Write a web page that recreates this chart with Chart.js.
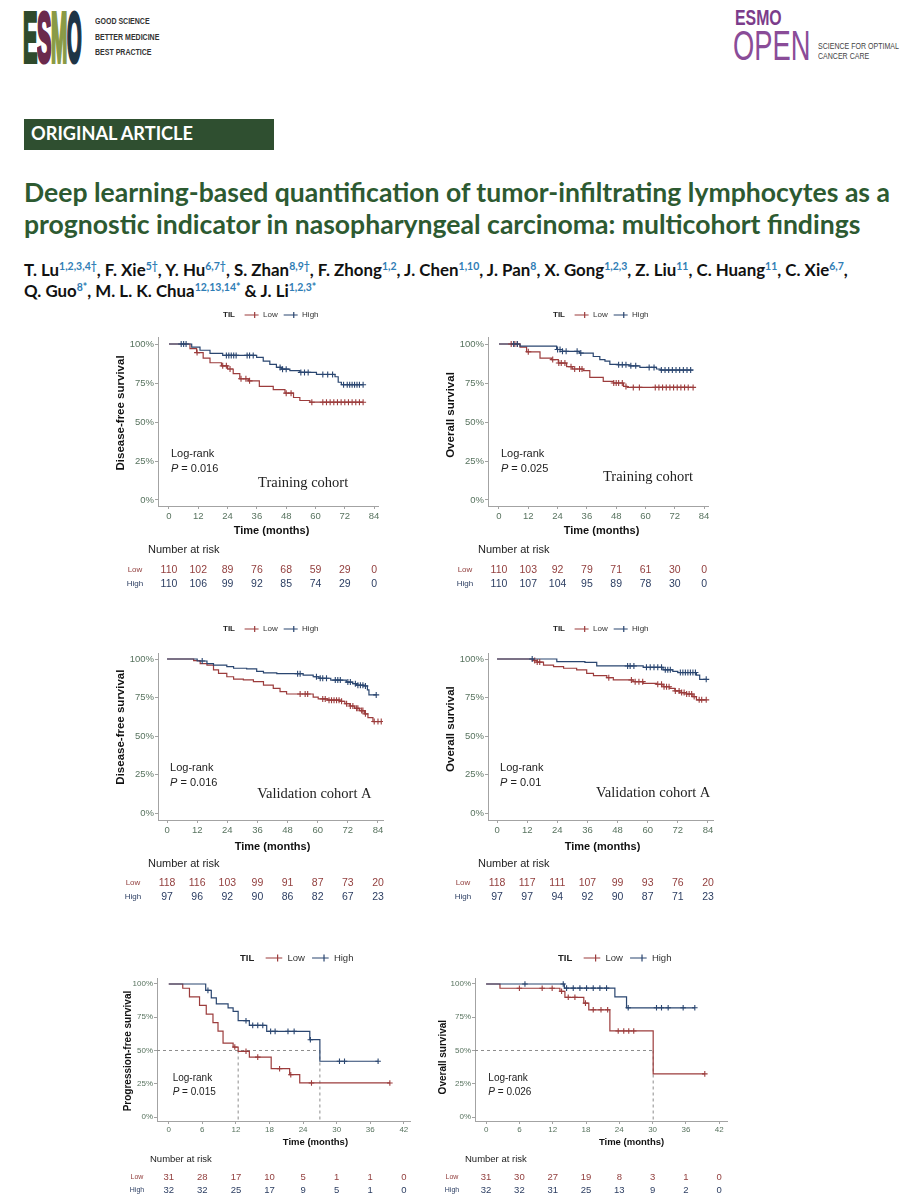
<!DOCTYPE html>
<html>
<head>
<meta charset="utf-8">
<script src="https://cdn.jsdelivr.net/npm/chart.js@4.4.0/dist/chart.umd.min.js"></script>
<style>
  body { margin: 0; background: #fff; width: 915px; height: 1200px; position: relative; overflow: hidden; font-family: "Liberation Sans", Arial, sans-serif; }
  .abs { position: absolute; white-space: nowrap; }
  canvas { position: absolute; }
  .fit { display: inline-block; }
  sup { font-size: 0.62em; vertical-align: 0.55em; line-height: 0; color: #2f7db5; }
  .logo { position: absolute; top: 3px; font: bold 70px "Liberation Sans"; line-height: 1; transform-origin: 0 0; -webkit-text-stroke: 4px; }
</style>
</head>
<body>

<!-- header -->
<div class="logo" style="left:23px;color:#2f4a2c;transform:scaleX(0.31)">E</div>
<div class="logo" style="left:37px;color:#6b2a4c;transform:scaleX(0.31)">S</div>
<div class="logo" style="left:51px;color:#8a9a45;transform:scaleX(0.28)">M</div>
<div class="logo" style="left:67px;color:#1e3446;transform:scaleX(0.27)">O</div>
<div class="abs" style="left:95px;top:14px;font:bold 9px 'Liberation Sans';color:#333;line-height:15.5px;transform:scaleX(0.78);transform-origin:0 0;">GOOD SCIENCE<br>BETTER MEDICINE<br>BEST PRACTICE</div>

<div class="abs" style="left:735px;top:7px;font:bold 22px 'Liberation Sans';color:#7b3c8b;line-height:1;transform:scaleX(0.72);transform-origin:0 0;">ESMO</div>
<div class="abs" style="left:733px;top:25px;font:42px 'Liberation Sans';color:#8a4c98;line-height:1;transform:scaleX(0.65);transform-origin:0 0;">OPEN</div>
<div class="abs" style="left:818px;top:41px;font:9.5px 'Liberation Sans';color:#444;line-height:10px;transform:scaleX(0.74);transform-origin:0 0;">SCIENCE FOR OPTIMAL<br>CANCER CARE</div>

<div class="abs" style="left:24px;top:119px;width:250px;height:31px;background:#2f4f30;"></div>
<div class="abs" style="left:31px;top:122px;line-height:31px;color:#fff;font:bold 17px Lato;"><span class="fit" id="banner">ORIGINAL ARTICLE</span></div>

<div class="abs" style="left:24px;top:176px;line-height:28px;color:#2d5a31;font:bold 23px Lato;"><span class="fit" id="t1">Deep learning-based quantification of tumor-infiltrating lymphocytes as a</span></div>
<div class="abs" style="left:24px;top:208px;line-height:28px;color:#2d5a31;font:bold 23px Lato;"><span class="fit" id="t2">prognostic indicator in nasopharyngeal carcinoma: multicohort findings</span></div>

<div class="abs" style="left:24px;top:259px;line-height:20px;color:#111;font:bold 14px Lato;"><span class="fit" id="a1">T. Lu<sup>1,2,3,4†</sup>, F. Xie<sup>5†</sup>, Y. Hu<sup>6,7†</sup>, S. Zhan<sup>8,9†</sup>, F. Zhong<sup>1,2</sup>, J. Chen<sup>1,10</sup>, J. Pan<sup>8</sup>, X. Gong<sup>1,2,3</sup>, Z. Liu<sup>11</sup>, C. Huang<sup>11</sup>, C. Xie<sup>6,7</sup>,</span></div>
<div class="abs" style="left:24px;top:280px;line-height:20px;color:#111;font:bold 14px Lato;"><span class="fit" id="a2">Q. Guo<sup>8*</sup>, M. L. K. Chua<sup>12,13,14*</sup> &amp; J. Li<sup>1,2,3*</sup></span></div>

<canvas id="c1" width="300" height="295" style="left:100px;top:305px"></canvas>
<canvas id="c2" width="300" height="295" style="left:430px;top:305px"></canvas>
<canvas id="c3" width="300" height="290" style="left:100px;top:620px"></canvas>
<canvas id="c4" width="300" height="290" style="left:430px;top:620px"></canvas>
<canvas id="c5" width="320" height="255" style="left:100px;top:945px"></canvas>
<canvas id="c6" width="320" height="255" style="left:420px;top:945px"></canvas>

<script>
// ---------- data ----------
// curves are [month, survival %] step points, censor arrays are months of "+" marks
const ticks84 = [0, 12, 24, 36, 48, 60, 72, 84];
const ticks42 = [0, 6, 12, 18, 24, 30, 36, 42];
const yTicks = [0, 25, 50, 75, 100];

// Training cohort - disease-free survival
const dfsTrainLow = [[0,100],[8.6,97],[11.3,94.5],[14,91],[16.8,88],[21.5,86],[24,84],[26.3,81],[29,77.7],[32.5,76.4],[37,72.8],[42.7,70.7],[47.5,68.5],[51,65.7],[53.6,63.8],[57.7,62.7],[79.5,62.7]];
const dfsTrainLowCens = [11.5,22,23.5,25,29.5,31.5,33,48,50,58.5,63,64.5,66,67.5,69,70.5,72,73.5,75,76.5,78,79.5];
const dfsTrainHigh = [[0,100],[9.3,98],[12.7,96],[16.8,94],[22,92.7],[35.9,91.5],[38.6,89],[41.3,87],[44,85],[46,83.9],[49.5,83],[53.6,81.8],[60.4,80.5],[68,79],[69.3,75.5],[70.6,73.9],[79.5,73.9]];
const dfsTrainHighCens = [5,6,7,23.5,24.5,25.5,26.5,27.5,32,33,34.5,45.5,46.5,48,54,55.5,57,63,65,67,71.5,73,74,75,76,77,78,79.5];
const dfsTrainRiskLow = [110, 102, 89, 76, 68, 59, 29, 0];
const dfsTrainRiskHigh = [110, 106, 99, 92, 85, 74, 29, 0];

// Training cohort - overall survival
const osTrainLow = [[0,100],[8.6,98],[11.3,95],[16.8,91],[21.5,90],[24.3,87.8],[27.7,85.5],[30,84],[34.5,83],[37.2,78.6],[42.7,76],[46.8,75],[51,72.8],[52.5,72.2],[79.5,72.2]];
const osTrainLowCens = [5,6.5,7.5,12,22,24.5,25.5,27,29.5,31,33,34,47,48,49,50.5,52,55,57.5,64,65.5,67,68.5,70,71.5,73,74.5,76,77.5,79.5];
const osTrainHigh = [[0,100],[8.6,98.7],[23.6,96.5],[26,95.3],[33,94.2],[38.6,92],[41.3,90],[43.4,89],[45.4,87],[48.5,86.7],[53.6,86],[57.7,85],[64.5,84],[66,83.3],[79.5,83.3]];
const osTrainHighCens = [6,7.5,24,25,26,27.5,32,33.5,49,50.5,52,54,56,61.5,63.5,66.5,68,69.5,71,72.5,74,75.5,77,78.5];
const osTrainRiskLow = [110, 103, 92, 79, 71, 61, 30, 0];
const osTrainRiskHigh = [110, 107, 104, 95, 89, 78, 30, 0];

// Validation cohort A - disease-free survival
const dfsValLow = [[0,100],[10.6,99],[13.2,97],[15.9,96],[18.5,93],[20.5,90.7],[23.8,88.5],[26.5,87],[30.4,86.5],[34.4,85.3],[38.4,83],[42.3,81],[45,78.8],[47.6,77.3],[58.2,75.2],[60.2,74.1],[64,73.3],[68.8,72.5],[70.8,71],[72.8,69.5],[74.7,68],[76.7,66.5],[78.7,64.4],[80,62],[82,59.4],[85.3,59.4]];
const dfsValLowCens = [53,55,56,62,63,64.5,65.5,66.5,67.5,68.5,69.5,71.5,73,74,75.5,76,77.5,78,79,82.5,84,85.3];
const dfsValHigh = [[0,100],[12,98.7],[15.9,97],[18.5,96],[23.8,95],[26.5,94],[31.7,93.6],[35.7,92],[38.4,91],[43.7,90.5],[54.2,89.5],[58.2,88.5],[60.5,87.5],[65.2,86.3],[71.4,85],[73.9,84],[75.5,83],[78.4,82.5],[79.8,80],[80.4,76.7],[83.3,76.7]];
const dfsValHighCens = [14,52,53,59.5,61,62,63.5,67,68,69,72,73,75,76,77,78,79,83.3];
const dfsValRiskLow = [118, 116, 103, 99, 91, 87, 73, 20];
const dfsValRiskHigh = [97, 96, 92, 90, 86, 82, 67, 23];

// Validation cohort A - overall survival
const osValLow = [[0,100],[14.6,99],[15.9,98],[18.5,96],[22.5,95],[26.5,94],[31.7,93],[35.7,90.7],[38.4,89.2],[43.7,87.9],[46.3,86.4],[54.2,85.3],[58.2,84.2],[63.5,83.6],[66.1,82],[68.8,81],[70.8,79.3],[72.8,78.2],[75.4,77.3],[78,75.6],[79.4,73.5],[83.3,73.5]];
const osValLowCens = [15,16,17,44.5,53.5,55,56.5,58,64,65.5,66.5,67.5,68.5,71,72.5,73.5,74.5,75.5,76.5,77.5,78.5,80.5,81.5,83.3];
const osValHigh = [[0,100],[23.8,98.3],[35,97.8],[39.7,95.5],[58.2,94.6],[66.1,93],[70,92],[72,91.2],[79.4,89.6],[80.7,86.8],[83.3,86.8]];
const osValHighCens = [14,52,53,54.5,59.5,61,62.5,64,65.5,67,68,69,73,74,75,76,77,78,79,83.3];
const osValRiskLow = [118, 117, 111, 107, 99, 93, 76, 20];
const osValRiskHigh = [97, 97, 94, 92, 90, 87, 71, 23];

// Third cohort - progression-free survival
const pfsLow = [[0,100],[2.5,96.8],[3.7,90.3],[5.5,83.9],[6.7,77.4],[7.9,71],[8.8,64.5],[9.7,55.6],[11.5,52.6],[12.4,49.4],[14.4,45],[18.3,36.3],[21.6,31.8],[23.4,25.6],[39.5,25.6]];
const pfsLowCens = [11.8,13.8,15.9,19.8,21.8,25.5,39.5];
const pfsHigh = [[0,100],[6.6,95.2],[7.6,89.5],[8.5,85],[10.6,82],[11.5,79.4],[12.4,72.4],[14.4,68.9],[17.5,64.4],[25.2,58.1],[27,41.9],[37.4,41.9]];
const pfsHighCens = [7,13.8,15,15.9,16.8,18.2,19,21.3,22.4,25.3,30.5,31.4,37.4];
const pfsRiskLow = [31, 28, 17, 10, 5, 1, 1, 0];
const pfsRiskHigh = [32, 32, 25, 17, 9, 5, 1, 0];

// Third cohort - overall survival
const os3Low = [[0,100],[2.5,96.8],[13.3,94.5],[14.2,90],[17.6,85.6],[18.5,80.6],[22.3,64.7],[30.1,32.4],[39.4,32.4]];
const os3LowCens = [6,10.1,11.9,13.6,14.8,16,17.9,19.3,20.7,21.9,23.8,24.8,25.7,26.6,39.4];
const os3High = [[0,100],[14.1,96.9],[23.2,90.3],[25.3,82.1],[37.6,82.1]];
const os3HighCens = [7,13.9,14.5,15.7,16.9,18.1,19.3,20.5,21.7,25.6,30.7,31.6,32.8,35.5,37.6];
const os3RiskLow = [31, 30, 27, 19, 8, 3, 1, 0];
const os3RiskHigh = [32, 32, 31, 25, 13, 9, 2, 0];

// ---------- styling ----------
const RED = '#9c3c3c';
const BLUE = '#2a4670';
const RISK_RED = '#93403f';
const RISK_BLUE = '#2c3e62';
const AXIS = '#a3a3a3';
const TICK = '#58735f';
const FONT = '"Liberation Sans", Arial, sans-serif';
Chart.defaults.font.family = FONT;

function survAt(curve, t) {
    let s = curve[0][1];
    for (const [ti, si] of curve) { if (ti <= t) s = si; else break; }
    return s;
}
function median(curve) {
    for (const [t, s] of curve) if (s <= 50) return t;
    return null;
}

// draws legend, axis titles, annotations, risk table and median lines
Chart.register({
    id: 'kmDecor',
    beforeDatasetsDraw(chart, args, o) {
        if (!o.medians) return;
        const { ctx, chartArea: a, scales: { x, y } } = chart;
        const meds = [median(o.low), median(o.high)].filter(m => m !== null);
        if (!meds.length) return;
        const y50 = y.getPixelForValue(50);
        ctx.save();
        ctx.strokeStyle = '#8c8c8c';
        ctx.lineWidth = 1;
        ctx.setLineDash([3, 3]);
        ctx.beginPath();
        ctx.moveTo(a.left, y50);
        ctx.lineTo(x.getPixelForValue(Math.max(...meds)), y50);
        meds.forEach(m => {
            const px = x.getPixelForValue(m);
            ctx.moveTo(px, y50);
            ctx.lineTo(px, a.bottom);
        });
        ctx.stroke();
        ctx.restore();
    },
    afterDraw(chart, args, o) {
        const { ctx, chartArea: a, scales: { x, y } } = chart;
        ctx.save();
        ctx.textBaseline = 'middle';

        // legend  TIL -+- Low -+- High
        let lx = a.left + o.legendDx;
        const ly = a.top + o.legendDy;
        const fs = o.legendFs;
        ctx.textAlign = 'left';
        ctx.fillStyle = '#222';
        ctx.font = `bold ${fs}px ${FONT}`;
        ctx.fillText('TIL', lx, ly);
        lx += ctx.measureText('TIL').width + fs * 1.2;
        [[RED, 'Low'], [BLUE, 'High']].forEach(([c, t]) => {
            const seg = fs * 1.75, r = fs * 0.38, cx = lx + seg * 0.72;
            ctx.strokeStyle = c;
            ctx.lineWidth = 1.2;
            ctx.beginPath();
            ctx.moveTo(lx, ly); ctx.lineTo(lx + seg, ly);
            ctx.moveTo(cx - r, ly); ctx.lineTo(cx + r, ly);
            ctx.moveTo(cx, ly - r); ctx.lineTo(cx, ly + r);
            ctx.stroke();
            lx += seg + fs * 0.55;
            ctx.fillStyle = '#333';
            ctx.font = `${fs}px ${FONT}`;
            ctx.fillText(t, lx, ly);
            lx += ctx.measureText(t).width + fs * 0.75;
        });

        // y axis title
        ctx.save();
        ctx.translate(a.left + o.yTitleDx, y.getPixelForValue(o.yTitleP));
        ctx.rotate(-Math.PI / 2);
        ctx.textAlign = 'center';
        ctx.fillStyle = '#111';
        ctx.font = `bold ${o.yTitleFs}px ${FONT}`;
        ctx.fillText(o.yTitle, 0, 0);
        ctx.restore();

        // log-rank annotation
        ctx.textAlign = 'left';
        ctx.fillStyle = '#222';
        ctx.font = `${o.annFs}px ${FONT}`;
        const ax = x.getPixelForValue(o.logRankAt[0]);
        ctx.fillText('Log-rank', ax, y.getPixelForValue(o.logRankAt[1]));
        const py = y.getPixelForValue(o.pAt);
        ctx.font = `italic ${o.annFs}px ${FONT}`;
        ctx.fillText('P', ax, py);
        const pw = ctx.measureText('P').width;
        ctx.font = `${o.annFs}px ${FONT}`;
        ctx.fillText(' = ' + o.p, ax + pw, py);

        if (o.cohort) {
            ctx.font = `${o.cohortFs}px "Liberation Serif", "Times New Roman", serif`;
            ctx.fillStyle = '#222';
            ctx.fillText(o.cohort, x.getPixelForValue(o.cohortAt[0]), y.getPixelForValue(o.cohortAt[1]));
        }

        // x axis title
        ctx.textAlign = 'center';
        ctx.fillStyle = '#111';
        ctx.font = `bold ${o.timeFs}px ${FONT}`;
        ctx.fillText('Time (months)', x.getPixelForValue(o.timeX), a.bottom + o.timeDy);

        // number at risk table
        ctx.textAlign = 'left';
        ctx.fillStyle = '#222';
        ctx.font = `${o.narFs}px ${FONT}`;
        ctx.fillText('Number at risk', a.left + o.narDx, a.bottom + o.narDy);
        [[o.riskLow, 'Low', RISK_RED, o.rowDy[0]], [o.riskHigh, 'High', RISK_BLUE, o.rowDy[1]]].forEach(([vals, lab, col, dy]) => {
            const ry = a.bottom + dy;
            ctx.textAlign = 'center';
            ctx.fillStyle = col;
            ctx.font = `${o.rowLabFs}px ${FONT}`;
            ctx.fillText(lab, a.left + o.rowLabelDx, ry);
            ctx.font = `${o.riskFs}px ${FONT}`;
            vals.forEach((v, i) => ctx.fillText(String(v), x.getPixelForValue(o.xTicks[i]), ry));
        });
        ctx.restore();
    }
});

function toXY(curve) { return curve.map(([x, y]) => ({ x, y })); }
function censorPoints(curve, times) { return times.map(t => ({ x: t, y: survAt(curve, t) })); }

function makeChart(p) {
    const lineDs = (curve, color) => ({
        data: toXY(curve), showLine: true, stepped: true, borderColor: color,
        borderWidth: 1.2, pointRadius: 0, fill: false
    });
    const crossDs = (curve, times, color) => ({
        data: censorPoints(curve, times), showLine: false, pointStyle: 'cross',
        pointRadius: p.crossR, borderColor: color, borderWidth: 1.1, pointHoverRadius: 0
    });
    new Chart(document.getElementById(p.id), {
        type: 'scatter',
        data: {
            datasets: [
                crossDs(p.high, p.highCens, BLUE),
                crossDs(p.low, p.lowCens, RED),
                lineDs(p.high, BLUE),
                lineDs(p.low, RED)
            ]
        },
        options: {
            responsive: false,
            animation: false,
            events: [],
            layout: { autoPadding: false, padding: { top: p.padTop, right: p.padRight, left: 0, bottom: 0 } },
            plugins: {
                legend: { display: false },
                tooltip: { enabled: false },
                kmDecor: p.decor
            },
            scales: {
                x: {
                    type: 'linear', min: p.xMin, max: p.xMax,
                    afterBuildTicks: s => { s.ticks = p.decor.xTicks.map(v => ({ value: v })); },
                    afterFit: s => { s.height = p.xAxisH; },
                    grid: { drawOnChartArea: false, tickLength: 3, color: AXIS },
                    border: { color: AXIS },
                    ticks: { color: TICK, font: { size: p.tickFs }, padding: p.tickPad, maxRotation: 0 }
                },
                y: {
                    min: p.yMin, max: p.yMax,
                    afterBuildTicks: s => { s.ticks = yTicks.map(v => ({ value: v })); },
                    afterFit: s => { s.width = p.yAxisW; },
                    grid: { drawOnChartArea: false, tickLength: 3, color: AXIS },
                    border: { color: AXIS },
                    ticks: { color: TICK, font: { size: p.tickFs }, padding: 1, callback: v => v + '%' }
                }
            }
        }
    });
}

// layout of the three rows of panels
const topRow = { padTop: 32, padRight: 22, xAxisH: 94, yAxisW: 58, xMin: -4.5, xMax: 85.6, yMin: -3.85, yMax: 104.5, tickFs: 9.5, tickPad: 2, crossR: 3 };
const midRow = { padTop: 33, padRight: 17, xAxisH: 90, yAxisW: 58, xMin: -3.6, xMax: 86, yMin: -4.5, yMax: 103.9, tickFs: 9.5, tickPad: 2, crossR: 3 };
const botRow = { padTop: 33, xAxisH: 79, xMin: -2.1, xMax: 43.1, yMin: -3, yMax: 104.5, tickFs: 8, tickPad: 1, crossR: 2.8 };

const bigDecor = { legendDx: 65, legendFs: 8, yTitleFs: 11.5, yTitleDx: -37, yTitleP: 55.8, annFs: 11, cohortFs: 14.5, timeFs: 11, timeX: 42, narFs: 11, narDx: -10, narDy: 44, rowLabFs: 8, rowLabelDx: -23, riskFs: 10.5, xTicks: ticks84 };
const smallDecor = { legendDx: 83, legendDy: -20, legendFs: 9.5, yTitleFs: 10, annFs: 10, timeFs: 9.5, timeX: 26.2, timeDy: 21, narFs: 9.5, narDy: 38, rowLabFs: 7, riskFs: 9.5, rowDy: [56, 69], xTicks: ticks42, medians: true };

makeChart({ id: 'c1', ...topRow, low: dfsTrainLow, high: dfsTrainHigh, lowCens: dfsTrainLowCens, highCens: dfsTrainHighCens,
    decor: { ...bigDecor, low: dfsTrainLow, high: dfsTrainHigh, riskLow: dfsTrainRiskLow, riskHigh: dfsTrainRiskHigh,
        yTitle: 'Disease-free survival', p: '0.016', logRankAt: [0.8, 29.5], pAt: 19.9, cohort: 'Training cohort', cohortAt: [36.5, 10.9],
        legendDy: -22, timeDy: 25, rowDy: [64, 78] } });
makeChart({ id: 'c2', ...topRow, low: osTrainLow, high: osTrainHigh, lowCens: osTrainLowCens, highCens: osTrainHighCens,
    decor: { ...bigDecor, low: osTrainLow, high: osTrainHigh, riskLow: osTrainRiskLow, riskHigh: osTrainRiskHigh,
        yTitle: 'Overall survival', yTitleP: 54.5, p: '0.025', logRankAt: [0.8, 29.5], pAt: 19.9, cohort: 'Training cohort', cohortAt: [42.6, 14.7],
        legendDy: -22, timeDy: 25, rowDy: [64, 78] } });
makeChart({ id: 'c3', ...midRow, low: dfsValLow, high: dfsValHigh, lowCens: dfsValLowCens, highCens: dfsValHighCens,
    decor: { ...bigDecor, low: dfsValLow, high: dfsValHigh, riskLow: dfsValRiskLow, riskHigh: dfsValRiskHigh,
        yTitle: 'Disease-free survival', p: '0.016', logRankAt: [1.2, 29.2], pAt: 19.5, cohort: 'Validation cohort A', cohortAt: [35.9, 12.3],
        legendDy: -24, timeDy: 27, rowDy: [63, 77], rowLabelDx: -25 } });
makeChart({ id: 'c4', ...midRow, low: osValLow, high: osValHigh, lowCens: osValLowCens, highCens: osValHighCens,
    decor: { ...bigDecor, low: osValLow, high: osValHigh, riskLow: osValRiskLow, riskHigh: osValRiskHigh,
        yTitle: 'Overall survival', yTitleP: 54.5, p: '0.01', logRankAt: [1.2, 29.2], pAt: 19.5, cohort: 'Validation cohort A', cohortAt: [39.4, 13],
        legendDy: -24, timeDy: 27, rowDy: [63, 77], rowLabelDx: -25 } });
makeChart({ id: 'c5', ...botRow, padRight: 10, yAxisW: 57, low: pfsLow, high: pfsHigh, lowCens: pfsLowCens, highCens: pfsHighCens,
    decor: { ...smallDecor, low: pfsLow, high: pfsHigh, riskLow: pfsRiskLow, riskHigh: pfsRiskHigh,
        yTitle: 'Progression-free survival', yTitleDx: -29, yTitleP: 49.6, p: '0.015', logRankAt: [0.7, 29.3], pAt: 18.8,
        narDx: -7, rowLabelDx: -20 } });
makeChart({ id: 'c6', ...botRow, padRight: 13, yAxisW: 55, xMin: -2, xMax: 43.4, low: os3Low, high: os3High, lowCens: os3LowCens, highCens: os3HighCens,
    decor: { ...smallDecor, low: os3Low, high: os3High, riskLow: os3RiskLow, riskHigh: os3RiskHigh,
        yTitle: 'Overall survival', yTitleDx: -32, yTitleP: 45, p: '0.026', logRankAt: [0.4, 29.3], pAt: 18.8,
        narDx: -10, rowLabelDx: -23 } });

// stretch header lines to the widths they have in the page
function fitWidth(id, w) {
    const el = document.getElementById(id);
    const fs = parseFloat(getComputedStyle(el).fontSize);
    el.style.fontSize = (fs * w / el.getBoundingClientRect().width) + 'px';
    return parseFloat(el.style.fontSize);
}
function fitHeader() {
    fitWidth('banner', 162);
    const t = fitWidth('t1', 866);
    document.getElementById('t2').style.fontSize = t + 'px';
    const a = fitWidth('a1', 824);
    document.getElementById('a2').style.fontSize = a + 'px';
}
fitHeader();
if (document.fonts) document.fonts.ready.then(fitHeader);
</script>
</body>
</html>
